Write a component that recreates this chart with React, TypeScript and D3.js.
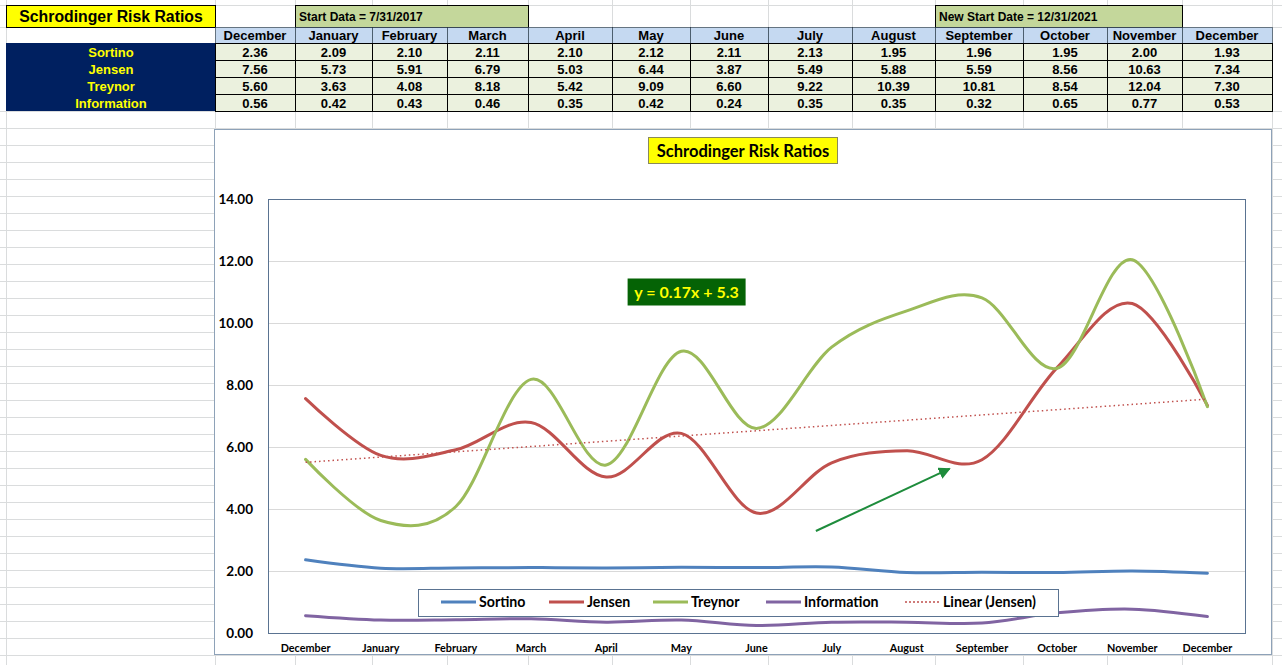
import React from "react";
import * as d3 from "d3";

// ---------- data ----------
const months = ["December", "January", "February", "March", "April", "May", "June", "July", "August", "September", "October", "November", "December"];
const sortino = [2.36, 2.09, 2.10, 2.11, 2.10, 2.12, 2.11, 2.13, 1.95, 1.96, 1.95, 2.00, 1.93];
const jensen = [7.56, 5.73, 5.91, 6.79, 5.03, 6.44, 3.87, 5.49, 5.88, 5.59, 8.56, 10.63, 7.34];
const treynor = [5.60, 3.63, 4.08, 8.18, 5.42, 9.09, 6.60, 9.22, 10.39, 10.81, 8.54, 12.04, 7.30];
const information = [0.56, 0.42, 0.43, 0.46, 0.35, 0.42, 0.24, 0.35, 0.35, 0.32, 0.65, 0.77, 0.53];
const yTicks = [0, 2, 4, 6, 8, 10, 12, 14];
const seriesNames = ["Sortino", "Jensen", "Treynor", "Information"];
const seriesValues = [sortino, jensen, treynor, information];
const seriesColors = ["#4F81BD", "#C0504D", "#9BBB59", "#8064A2"];
const chartTitle = "Schrodinger Risk Ratios";
const startNote = "Start Data = 7/31/2017";
const newStartNote = "New Start Date = 12/31/2021";
// arrow annotation in data coordinates [categoryIndex, value]
const arrowFrom: [number, number] = [6.79, 3.29];
const arrowTo: [number, number] = [8.57, 5.3];
const trendLabelAt: [number, number] = [5.07, 11.0];

// ---------- layout ----------
const W = 1282, H = 665;
const colEdges = [6, 215, 295, 372, 447, 528, 612, 690, 768, 852, 935, 1023, 1107, 1182, 1272];
const rowEdges = [5, 27, 43, 60, 77, 94, 111];
const tableFont = "'Liberation Sans', Arial, sans-serif";
const chartFont = "Lato, 'Open Sans', sans-serif";

export default function App() {
  const plot = { l: 268, r: 1245, t: 199, b: 633 };
  const x = d3.scalePoint<number>().domain(d3.range(months.length)).range([plot.l, plot.r]).padding(0.5);
  const y = d3.scaleLinear().domain([0, 14]).range([plot.b, plot.t]);
  const line = d3.line<number>().x((_, i) => x(i)!).y(d => y(d)).curve(d3.curveCardinal.tension(0));

  // linear trend of Jensen (x = 1..n)
  const xs = jensen.map((_, i) => i + 1);
  const mx = d3.mean(xs)!, my = d3.mean(jensen)!;
  const slope = d3.sum(xs, (v, i) => (v - mx) * (jensen[i] - my)) / d3.sum(xs, v => (v - mx) ** 2);
  const intercept = my - slope * mx;
  const trendLabel = `y = ${slope.toFixed(2)}x + ${intercept.toFixed(1)}`;
  const tx0 = x(0)!, tx1 = x(months.length - 1)!;
  const ty0 = y(slope * 1 + intercept), ty1 = y(slope * months.length + intercept);

  // spreadsheet grid
  const gridRows: number[] = [];
  for (let v = 111; v <= H; v += 17) gridRows.push(v);
  const gridCols = [...colEdges, 1282];

  const step = x(1)! - x(0)!;
  const ax0 = x(0)! + step * arrowFrom[0];
  const ay0 = y(arrowFrom[1]);
  const ax1 = x(0)! + step * arrowTo[0];
  const ay1 = y(arrowTo[1]);
  const tlx = x(0)! + step * trendLabelAt[0];
  const tly = y(trendLabelAt[1]);

  const legendItems = [
    { name: "Sortino", color: seriesColors[0], lx: 441, dash: "" },
    { name: "Jensen", color: seriesColors[1], lx: 549, dash: "" },
    { name: "Treynor", color: seriesColors[2], lx: 653, dash: "" },
    { name: "Information", color: seriesColors[3], lx: 766, dash: "" },
    { name: "Linear (Jensen)", color: seriesColors[1], lx: 905, dash: "2,2" },
  ];

  return (
    <svg width={W} height={H} style={{ position: "absolute", left: 0, top: 0, background: "#fff" }}>
      <defs>
        <marker id="ah" viewBox="0 0 10 10" refX="9" refY="5" markerWidth="6" markerHeight="6" orient="auto">
          <path d="M0,0 L10,5 L0,10 z" fill="#1E8C3C" />
        </marker>
      </defs>
      {/* spreadsheet grid */}
      <g stroke="#DADCDD" strokeWidth={1}>
        {gridRows.map(v => <line key={"r" + v} x1={0} x2={W} y1={v + 0.5} y2={v + 0.5} />)}
        {gridCols.map(c => <line key={"c" + c} x1={c + 0.5} x2={c + 0.5} y1={0} y2={H} />)}
        <line x1={0} x2={W} y1={5.5} y2={5.5} />
        <line x1={0} x2={W} y1={27.5} y2={27.5} />
      </g>
      {/* title cell */}
      <rect x={6.5} y={5.5} width={209} height={22} fill="#FFFF00" stroke="#000" />
      <text x={111} y={22} textAnchor="middle" fontFamily={tableFont} fontWeight="bold" fontSize={15.8} fill="#000">{chartTitle}</text>
      <rect x={295.5} y={5.5} width={233} height={22} fill="#C4D79B" stroke="#000" />
      <text x={299} y={21} fontFamily={tableFont} fontWeight="bold" fontSize={12} fill="#000">{startNote}</text>
      <rect x={935.5} y={5.5} width={247} height={22} fill="#C4D79B" stroke="#000" />
      <text x={939} y={21} fontFamily={tableFont} fontWeight="bold" fontSize={12} fill="#000">{newStartNote}</text>
      {/* header row */}
      {months.map((m, i) => (
        <g key={"h" + i}>
          <rect x={colEdges[i + 1] + 0.5} y={27.5} width={colEdges[i + 2] - colEdges[i + 1]} height={16} fill="#C5D9F1" stroke="#1F2F3F" strokeWidth={0.6} />
          <text x={(colEdges[i + 1] + colEdges[i + 2]) / 2} y={40} textAnchor="middle" fontFamily={tableFont} fontWeight="bold" fontSize={13} fill="#000">{m}</text>
        </g>
      ))}
      {/* label column */}
      <rect x={6} y={43} width={209} height={68} fill="#002060" />
      {seriesNames.map((n, r) => (
        <text key={"l" + n} x={111} y={rowEdges[r + 2] + 14} textAnchor="middle" fontFamily={tableFont} fontWeight="bold" fontSize={13} fill="#FFFF00">{n}</text>
      ))}
      {/* data cells */}
      {seriesValues.map((vals, r) => vals.map((v, i) => (
        <g key={"d" + r + "-" + i}>
          <rect x={colEdges[i + 1] + 0.5} y={rowEdges[r + 2] + 0.5} width={colEdges[i + 2] - colEdges[i + 1]} height={rowEdges[r + 3] - rowEdges[r + 2]} fill="#EBF1DE" stroke="#000" strokeWidth={1} />
          <text x={(colEdges[i + 1] + colEdges[i + 2]) / 2} y={rowEdges[r + 2] + 14} textAnchor="middle" fontFamily={tableFont} fontWeight="bold" fontSize={13} fill="#000">{v.toFixed(2)}</text>
        </g>
      )))}

      {/* chart area */}
      <rect x={214.5} y={129.5} width={1057} height={525} fill="#fff" stroke="#8EA2B8" strokeWidth={1} />
      <rect x={648.5} y={137.5} width={189} height={26} fill="#FFFF00" stroke="#8A8A5A" strokeWidth={1} />
      <text x={743} y={157} textAnchor="middle" fontFamily={chartFont} fontWeight="bold" fontSize={16.5} fill="#000">{chartTitle}</text>

      {/* gridlines */}
      <g stroke="#D9D9D9" strokeWidth={1}>
        {yTicks.map(t => <line key={"g" + t} x1={plot.l} x2={plot.r} y1={Math.round(y(t)) + 0.5} y2={Math.round(y(t)) + 0.5} />)}
      </g>
      <rect x={plot.l + 0.5} y={plot.t + 0.5} width={plot.r - plot.l} height={plot.b - plot.t} fill="none" stroke="#5A7391" strokeWidth={1} />
      {yTicks.map(t => (
        <text key={"yt" + t} x={253} y={y(t) + 5} textAnchor="end" fontFamily={chartFont} fontWeight="bold" fontSize={13.5} fill="#000">{t.toFixed(2)}</text>
      ))}
      {months.map((m, i) => (
        <text key={"xt" + i} x={x(i)!} y={652} textAnchor="middle" fontFamily={chartFont} fontWeight="bold" fontSize={10.8} fill="#000">{m}</text>
      ))}

      {/* series */}
      {seriesValues.map((vals, s) => (
        <path key={"s" + s} d={line(vals)!} fill="none" stroke={seriesColors[s]} strokeWidth={3} strokeLinecap="round" />
      ))}
      {/* trend line */}
      <line x1={tx0} y1={ty0} x2={tx1} y2={ty1} stroke="#C0504D" strokeWidth={1.5} strokeDasharray="1.5,3" />

      {/* trend label */}
      <rect x={tlx - 59} y={tly - 13.5} width={118} height={27} fill="#056305" />
      <text x={tlx} y={tly + 6} textAnchor="middle" fontFamily={chartFont} fontWeight="bold" fontSize={16} fill="#FFFF00">{trendLabel}</text>

      {/* arrow */}
      <line x1={ax0} y1={ay0} x2={ax1} y2={ay1} stroke="#1E8C3C" strokeWidth={2} markerEnd="url(#ah)" />

      {/* legend */}
      <rect x={418.5} y={589.5} width={640} height={27} fill="#fff" stroke="#5A7391" strokeWidth={1} />
      {legendItems.map(it => (
        <g key={"lg" + it.name}>
          <line x1={it.lx} x2={it.lx + 35} y1={602} y2={602} stroke={it.color} strokeWidth={it.dash ? 1.5 : 3} strokeDasharray={it.dash || undefined} />
          <text x={it.lx + 38} y={607} fontFamily={chartFont} fontWeight="bold" fontSize={14.2} fill="#000">{it.name}</text>
        </g>
      ))}
    </svg>
  );
}
